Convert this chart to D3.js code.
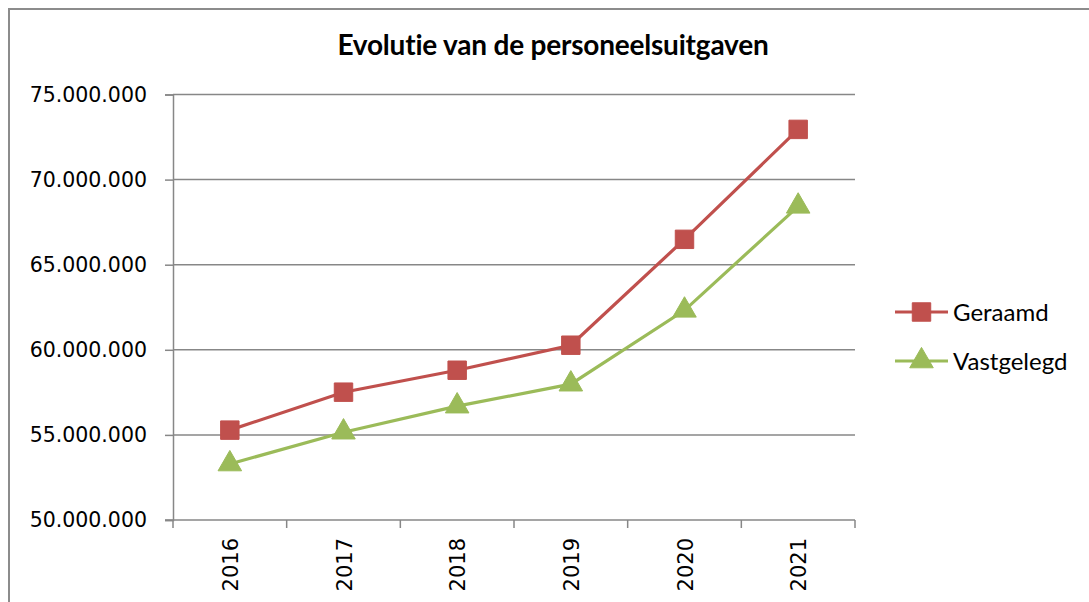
<!DOCTYPE html>
<html>
<head>
<meta charset="utf-8">
<script src="https://cdn.jsdelivr.net/npm/d3@7"></script>
<style>
  html, body { margin: 0; padding: 0; background: #fff; }
  svg { display: block; }
</style>
</head>
<body>
<svg id="chart"></svg>
<script>
// chart data
const years = ["2016", "2017", "2018", "2019", "2020", "2021"];
const geraamd = [55280000, 57510000, 58800000, 60270000, 66490000, 72950000];
const vastgelegd = [53290000, 55160000, 56690000, 57980000, 62320000, 68430000];
const yTicks = [50000000, 55000000, 60000000, 65000000, 70000000, 75000000];
const seriesNames = ["Geraamd", "Vastgelegd"];

const WIDTH = 1089;
const HEIGHT = 602;
const GRID = "#878787";
const RED = "#C0504D";
const GREEN = "#9BBB59";

const svg = d3.select("#chart").attr("width", WIDTH).attr("height", HEIGHT);

// outer frame (only top and left edges are visible in the picture)
svg.append("path")
  .attr("d", `M9,${HEIGHT + 5}V9H${WIDTH + 5}`)
  .attr("fill", "none")
  .attr("stroke", "#8c8c8c")
  .attr("stroke-width", 2);

// title
svg.append("text")
  .attr("x", 553)
  .attr("y", 55)
  .attr("text-anchor", "middle")
  .attr("font-family", "Lato, 'Open Sans', sans-serif")
  .attr("font-weight", "bold")
  .attr("font-size", "28px")
  .attr("letter-spacing", "-0.2px")
  .attr("fill", "#000")
  .text("Evolutie van de personeelsuitgaven");

// plot area
const plotLeft = 173, plotRight = 855, plotTop = 94.5, plotBottom = 520;

const x = d3.scaleBand().domain(years).range([plotLeft, plotRight]);
const y = d3.scaleLinear().domain([50000000, 75000000]).range([plotBottom, plotTop]);

const fmt = d => d3.format(",")(d).replace(/,/g, ".");

// gridlines
svg.append("g")
  .selectAll("line")
  .data(yTicks.slice(1))
  .enter()
  .append("line")
  .attr("x1", plotLeft)
  .attr("x2", plotRight)
  .attr("y1", d => y(d))
  .attr("y2", d => y(d))
  .attr("stroke", GRID)
  .attr("stroke-width", 1.5);

// y axis
const yAxis = svg.append("g")
  .attr("transform", `translate(${plotLeft},0)`)
  .call(d3.axisLeft(y).tickValues(yTicks).tickFormat(fmt).tickSize(8).tickPadding(18));
yAxis.select(".domain").attr("stroke", GRID).attr("stroke-width", 1.5);
yAxis.selectAll(".tick line").attr("stroke", GRID).attr("stroke-width", 1.5);
yAxis.selectAll(".tick text")
  .attr("font-family", "'DejaVu Sans', sans-serif")
  .attr("font-size", "20.5px")
  .attr("fill", "#000");

// x axis: ticks between categories
const xAxisG = svg.append("g").attr("transform", `translate(0,${plotBottom})`);
xAxisG.append("line")
  .attr("x1", plotLeft - 8).attr("x2", plotRight)
  .attr("y1", 0).attr("y2", 0)
  .attr("stroke", GRID).attr("stroke-width", 1.5);
const boundaries = years.map(d => x(d)).concat([x(years[years.length - 1]) + x.bandwidth()]);
xAxisG.selectAll(".xtick")
  .data(boundaries)
  .enter()
  .append("line")
  .attr("class", "xtick")
  .attr("x1", d => d).attr("x2", d => d)
  .attr("y1", 0).attr("y2", 8)
  .attr("stroke", GRID).attr("stroke-width", 1.5);
xAxisG.selectAll(".xlabel")
  .data(years)
  .enter()
  .append("text")
  .attr("class", "xlabel")
  .attr("transform", d => `translate(${x(d) + x.bandwidth() / 2 + 8},${18}) rotate(-90)`)
  .attr("text-anchor", "end")
  .attr("font-family", "'DejaVu Sans', sans-serif")
  .attr("font-size", "21px")
  .attr("fill", "#000")
  .text(d => d);

// series
const cx = d => x(d) + x.bandwidth() / 2;
const line = d3.line().x(d => cx(d[0])).y(d => y(d[1]));

const series = [
  { name: seriesNames[0], values: geraamd, color: RED, symbol: d3.symbolSquare, size: 340 },
  { name: seriesNames[1], values: vastgelegd, color: GREEN, symbol: d3.symbolTriangle, size: 240 }
];

series.forEach(s => {
  const pts = years.map((yr, i) => [yr, s.values[i]]);
  svg.append("path")
    .datum(pts)
    .attr("d", line)
    .attr("fill", "none")
    .attr("stroke", s.color)
    .attr("stroke-width", 3.2);
  svg.append("g")
    .selectAll("path")
    .data(pts)
    .enter()
    .append("path")
    .attr("transform", d => `translate(${cx(d[0])},${y(d[1])})`)
    .attr("d", d3.symbol().type(s.symbol).size(s.size))
    .attr("fill", s.color)
    .attr("stroke", s.color)
    .attr("stroke-width", 1)
    .attr("stroke-linejoin", "round");
});

// legend
const legend = svg.append("g").attr("transform", "translate(895,312)");
series.forEach((s, i) => {
  const g = legend.append("g").attr("transform", `translate(0,${i * 49})`);
  g.append("line")
    .attr("x1", 0).attr("x2", 53)
    .attr("y1", 0).attr("y2", 0)
    .attr("stroke", s.color)
    .attr("stroke-width", 3.2);
  g.append("path")
    .attr("transform", "translate(26.5,0)")
    .attr("d", d3.symbol().type(s.symbol).size(s.size))
    .attr("fill", s.color)
    .attr("stroke", s.color)
    .attr("stroke-width", 1)
    .attr("stroke-linejoin", "round");
  g.append("text")
    .attr("x", 58)
    .attr("y", 8.5)
    .attr("font-family", "Lato, 'Open Sans', sans-serif")
    .attr("font-size", "24px")
    .attr("fill", "#000")
    .text(s.name);
});
</script>
</body>
</html>
